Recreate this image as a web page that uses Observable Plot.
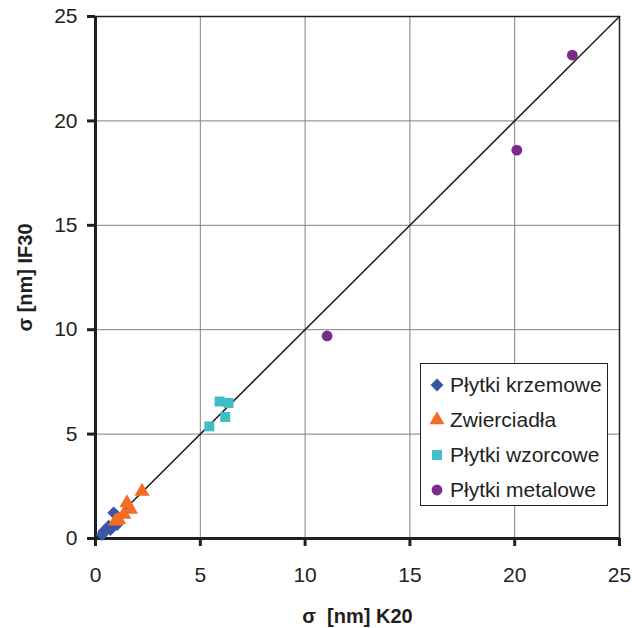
<!DOCTYPE html>
<html>
<head>
<meta charset="utf-8">
<script src="https://cdn.jsdelivr.net/npm/d3@7"></script>
<script src="https://cdn.jsdelivr.net/npm/@observablehq/plot@0.6"></script>
<style>
  html, body { margin: 0; padding: 0; background: #fff; }
  #wrap { position: relative; width: 632px; height: 628px; font-family: "Liberation Sans", Arial, sans-serif; color: #231f20; }
  #wrap svg { display: block; }
  g[aria-label="x-axis label"] text, g[aria-label="y-axis label"] text { font-weight: bold; font-size: 20px; white-space: pre; }
  #legend { position: absolute; left: 420px; top: 363px; width: 188px; height: 143px; box-sizing: border-box;
    border: 1.5px solid #231f20; background: #fff; padding-top: 3px; }
  .row { display: flex; align-items: center; height: 35px; font-size: 21px; }
  .row svg { width: 16px; height: 16px; margin-left: 8px; margin-right: 5px; }
</style>
</head>
<body>
<div id="wrap"></div>
<script>
// Series data (σ [nm] K20 vs σ [nm] IF30)
const seriesNames = ["Płytki krzemowe", "Zwierciadła", "Płytki wzorcowe", "Płytki metalowe"];
const krzemoweX = [0.32, 0.40, 0.63, 0.71, 0.87, 1.03];
const krzemoweY = [0.19, 0.35, 0.59, 0.43, 1.23, 0.67];
const zwierciadlaX = [0.95, 1.10, 1.35, 1.67, 1.50, 2.22];
const zwierciadlaY = [0.83, 0.90, 1.15, 1.39, 1.70, 2.25];
const wzorcoweX = [5.43, 5.92, 6.35, 6.19];
const wzorcoweY = [5.37, 6.56, 6.49, 5.82];
const metaloweX = [11.05, 20.1, 22.75];
const metaloweY = [9.7, 18.6, 23.15];
const xTicks = [0, 5, 10, 15, 20, 25];
const yTicks = [0, 5, 10, 15, 20, 25];
const diagonal = [0, 25];

const colors = ["#3b55a6", "#f36d25", "#3fbfc5", "#7b2a8c"];
const symbols = ["diamond2", "triangle", "square", "circle"];
const radii = [5.8, 5.6, 5.6, 5.4];

const toRows = (xs, ys) => xs.map((x, i) => ({x, y: ys[i]}));
const series = [
  toRows(krzemoweX, krzemoweY),
  toRows(zwierciadlaX, zwierciadlaY),
  toRows(wzorcoweX, wzorcoweY),
  toRows(metaloweX, metaloweY)
];

const ink = "#231f20";
const chart = Plot.plot({
  width: 632,
  height: 628,
  marginLeft: 95,
  marginRight: 13,
  marginTop: 16,
  marginBottom: 90,
  style: {fontFamily: '"Liberation Sans", Arial, sans-serif', color: ink, background: "#fff"},
  x: {domain: [0, 25]},
  y: {domain: [0, 25]},
  marks: [
    Plot.gridX(xTicks, {stroke: "#808080", strokeOpacity: 1, strokeWidth: 1}),
    Plot.gridY(yTicks, {stroke: "#808080", strokeOpacity: 1, strokeWidth: 1}),
    Plot.frame({stroke: ink, strokeWidth: 1.5}),
    Plot.line(diagonal, {x: d => d, y: d => d, stroke: ink, strokeWidth: 1.5}),
    Plot.ruleX([0], {stroke: ink, strokeWidth: 3}),
    Plot.ruleY([0], {stroke: ink, strokeWidth: 3}),
    Plot.axisX({ticks: xTicks, tickSize: 8, tickPadding: 21, strokeWidth: 3, fontSize: 21,
      label: "σ  [nm] K20", labelAnchor: "center", labelOffset: 84, labelArrow: "none"}),
    Plot.axisY({ticks: yTicks, tickSize: 8, tickPadding: 10, strokeWidth: 3, fontSize: 21,
      label: "σ [nm] IF30", labelAnchor: "center", labelOffset: 78, labelArrow: "none"}),
    ...series.map((rows, i) => Plot.dot(rows, {x: "x", y: "y", symbol: () => symbols[i], r: radii[i], fill: colors[i], stroke: "none"}))
  ]
});

const wrap = document.getElementById("wrap");
wrap.appendChild(chart);

// legend
const legend = document.createElement("div");
legend.id = "legend";
seriesNames.forEach((name, i) => {
  const row = document.createElement("div");
  row.className = "row";
  const sym = d3.symbol(d3["symbol" + ({diamond2: "Diamond2", triangle: "Triangle", square: "Square", circle: "Circle"})[symbols[i]]], Math.PI * radii[i] * radii[i])();
  row.innerHTML = `<svg viewBox="-8 -8 16 16"><path d="${sym}" fill="${colors[i]}"></path></svg><span>${name}</span>`;
  legend.appendChild(row);
});
wrap.appendChild(legend);
</script>
</body>
</html>
